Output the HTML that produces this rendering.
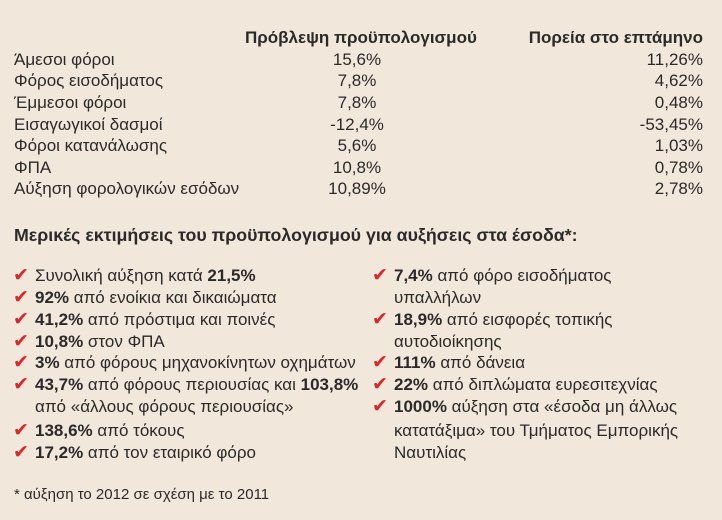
<!DOCTYPE html>
<html><head><meta charset="utf-8"><style>
body{margin:0;width:722px;height:520px;background:#f2e7db;overflow:hidden;font-family:"Liberation Sans","DejaVu Sans",sans-serif;color:#2a2a2a;}
.t{position:absolute;font-size:17px;white-space:nowrap;line-height:20px;}
.b{font-weight:bold}
.c{position:absolute;color:#d9272b;font-size:19px;font-weight:bold;line-height:20px;}
.f{position:absolute;font-size:15px;white-space:nowrap;line-height:18px;}
</style></head><body>
<div class="t b" style="left:245px;top:28px;font-size:17px">Πρόβλεψη προϋπολογισμού</div>
<div class="t b" style="right:19px;top:28px;font-size:17px">Πορεία στο επτάμηνο</div>

<div class="t" style="left:14px;top:50px">Άμεσοι φόροι</div>
<div class="t" style="left:14px;top:71px">Φόρος εισοδήματος</div>
<div class="t" style="left:14px;top:93px">Έμμεσοι φόροι</div>
<div class="t" style="left:14px;top:115px">Εισαγωγικοί δασμοί</div>
<div class="t" style="left:14px;top:136px">Φόροι κατανάλωσης</div>
<div class="t" style="left:14px;top:158px">ΦΠΑ</div>
<div class="t" style="left:14px;top:179px">Αύξηση φορολογικών εσόδων</div>

<div class="t" style="left:257px;width:200px;text-align:center;top:50px">15,6%</div>
<div class="t" style="left:257px;width:200px;text-align:center;top:71px">7,8%</div>
<div class="t" style="left:257px;width:200px;text-align:center;top:93px">7,8%</div>
<div class="t" style="left:257px;width:200px;text-align:center;top:115px">-12,4%</div>
<div class="t" style="left:257px;width:200px;text-align:center;top:136px">5,6%</div>
<div class="t" style="left:257px;width:200px;text-align:center;top:158px">10,8%</div>
<div class="t" style="left:257px;width:200px;text-align:center;top:179px">10,89%</div>

<div class="t" style="right:19px;top:50px">11,26%</div>
<div class="t" style="right:19px;top:71px">4,62%</div>
<div class="t" style="right:19px;top:93px">0,48%</div>
<div class="t" style="right:19px;top:115px">-53,45%</div>
<div class="t" style="right:19px;top:136px">1,03%</div>
<div class="t" style="right:19px;top:158px">0,78%</div>
<div class="t" style="right:19px;top:179px">2,78%</div>

<div class="t b" style="left:14px;top:225px;font-size:17.8px">Μερικές εκτιμήσεις του προϋπολογισμού για αυξήσεις στα έσοδα*:</div>

<div class="c" style="left:13px;top:266px">✔</div><div class="t" style="left:35px;top:266px">Συνολική αύξηση κατά <b>21,5%</b></div>
<div class="c" style="left:13px;top:288px">✔</div><div class="t" style="left:35px;top:288px"><b>92%</b> από ενοίκια και δικαιώματα</div>
<div class="c" style="left:13px;top:310px">✔</div><div class="t" style="left:35px;top:310px"><b>41,2%</b> από πρόστιμα και ποινές</div>
<div class="c" style="left:13px;top:332px">✔</div><div class="t" style="left:35px;top:332px"><b>10,8%</b> στον ΦΠΑ</div>
<div class="c" style="left:13px;top:353px">✔</div><div class="t" style="left:35px;top:353px"><b>3%</b> από φόρους μηχανοκίνητων οχημάτων</div>
<div class="c" style="left:13px;top:375px">✔</div><div class="t" style="left:35px;top:375px"><b>43,7%</b> από φόρους περιουσίας και <b>103,8%</b></div>
<div class="t" style="left:35px;top:397px">από «άλλους φόρους περιουσίας»</div>
<div class="c" style="left:13px;top:421px">✔</div><div class="t" style="left:35px;top:421px"><b>138,6%</b> από τόκους</div>
<div class="c" style="left:13px;top:443px">✔</div><div class="t" style="left:35px;top:443px"><b>17,2%</b> από τον εταιρικό φόρο</div>

<div class="c" style="left:372px;top:266px">✔</div><div class="t" style="left:394px;top:266px"><b>7,4%</b> από φόρο εισοδήματος</div>
<div class="t" style="left:394px;top:288px">υπαλλήλων</div>
<div class="c" style="left:372px;top:310px">✔</div><div class="t" style="left:394px;top:310px"><b>18,9%</b> από εισφορές τοπικής</div>
<div class="t" style="left:394px;top:332px">αυτοδιοίκησης</div>
<div class="c" style="left:372px;top:353px">✔</div><div class="t" style="left:394px;top:353px"><b>111%</b> από δάνεια</div>
<div class="c" style="left:372px;top:375px">✔</div><div class="t" style="left:394px;top:375px"><b>22%</b> από διπλώματα ευρεσιτεχνίας</div>
<div class="c" style="left:372px;top:397px">✔</div><div class="t" style="left:394px;top:397px"><b>1000%</b> αύξηση στα «έσοδα μη άλλως</div>
<div class="t" style="left:394px;top:421px">κατατάξιμα» του Τμήματος Εμπορικής</div>
<div class="t" style="left:394px;top:443px">Ναυτιλίας</div>

<div class="f" style="left:14px;top:486px">* αύξηση το 2012 σε σχέση με το 2011</div>
</body></html>
